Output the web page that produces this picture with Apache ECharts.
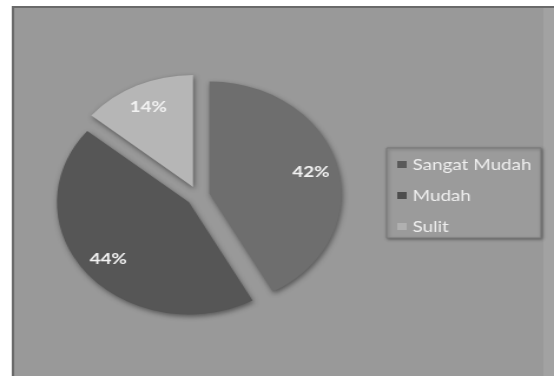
<!DOCTYPE html>
<html>
<head>
<meta charset="utf-8">
<script src="https://cdn.jsdelivr.net/npm/echarts@6/dist/echarts.min.js"></script>
<style>
  html, body { margin: 0; padding: 0; background: #ffffff; overflow: hidden; }
  /* chart is laid out at 470px wide and widened to fill the 554px window */
  #chart { width: 470px; height: 376px; transform: scaleX(1.17872); transform-origin: 0 0; }
</style>
</head>
<body>
<div id="chart"></div>
<script>
// Tingkat kesulitan (persen)
const categories = ['Sangat Mudah', 'Mudah', 'Sulit'];
const values = [42, 44, 14];
const sliceColors = ['#6e6e6e', '#565656', '#b6b6b6'];
const legendIconColors = ['#5a5a5a', '#4e4e4e', '#b0b0b0'];

const chart = echarts.init(document.getElementById('chart'));

const pieCenter = [168, 196];
const pieRadius = 112;
const explode = 10;

const sliceData = categories.map((name, i) => ({
  name: name,
  value: values[i],
  selected: true,
  selectedOffset: i === 2 ? 6 : explode,
  itemStyle: { color: sliceColors[i] }
}));

const labelData = categories.map((name, i) => ({
  name: name,
  value: values[i],
  selected: true,
  selectedOffset: i === 2 ? 6 : explode
}));

chart.setOption({
  animation: false,
  graphic: [
    {
      type: 'rect',
      z: -10,
      shape: { x: 11, y: 7, width: 470, height: 380 },
      style: { fill: '#999999', stroke: '#6a6a6a', lineWidth: 2 }
    },
    {
      type: 'rect',
      z: -9,
      shape: { x: 461, y: 8, width: 9, height: 380 },
      style: { fill: '#a2a2a2' }
    }
  ],
  legend: {
    orient: 'vertical',
    left: 328,
    top: 148,
    padding: [7, 8, 2, 9],
    itemGap: 12,
    itemWidth: 8,
    itemHeight: 7,
    icon: 'rect',
    backgroundColor: '#9b9b9b',
    borderColor: '#787878',
    borderWidth: 1,
    shadowColor: 'rgba(0,0,0,0.35)',
    shadowBlur: 3,
    shadowOffsetX: 1,
    shadowOffsetY: 1,
    selectedMode: false,
    data: categories.map((name, i) => ({
      name: name,
      itemStyle: { color: legendIconColors[i] }
    })),
    textStyle: {
      color: '#efefef',
      fontFamily: 'Lato',
      fontSize: 16,
      lineHeight: 19
    }
  },
  series: [
    {
      type: 'pie',
      center: pieCenter,
      radius: pieRadius,
      startAngle: 90,
      clockwise: true,
      selectedMode: 'multiple',
      selectedOffset: explode,
      silent: true,
      label: { show: false },
      labelLine: { show: false },
      itemStyle: {
        borderWidth: 0,
        shadowColor: 'rgba(0,0,0,0.45)',
        shadowBlur: 5,
        shadowOffsetX: 1,
        shadowOffsetY: 2
      },
      emphasis: { disabled: true },
      data: sliceData
    },
    {
      // transparent ring that carries the percentage labels
      type: 'pie',
      center: pieCenter,
      radius: [60, pieRadius],
      startAngle: 90,
      clockwise: true,
      selectedMode: 'multiple',
      selectedOffset: explode,
      silent: true,
      itemStyle: { color: 'rgba(0,0,0,0)', borderWidth: 0 },
      select: { itemStyle: { color: 'rgba(0,0,0,0)', borderWidth: 0 } },
      emphasis: { disabled: true },
      label: {
        show: true,
        position: 'inside',
        formatter: '{d}%',
        color: '#f2f2f2',
        fontFamily: 'Lato',
        fontWeight: 'bold',
        fontSize: 16
      },
      labelLine: { show: false },
      data: labelData
    }
  ]
});
</script>
</body>
</html>
